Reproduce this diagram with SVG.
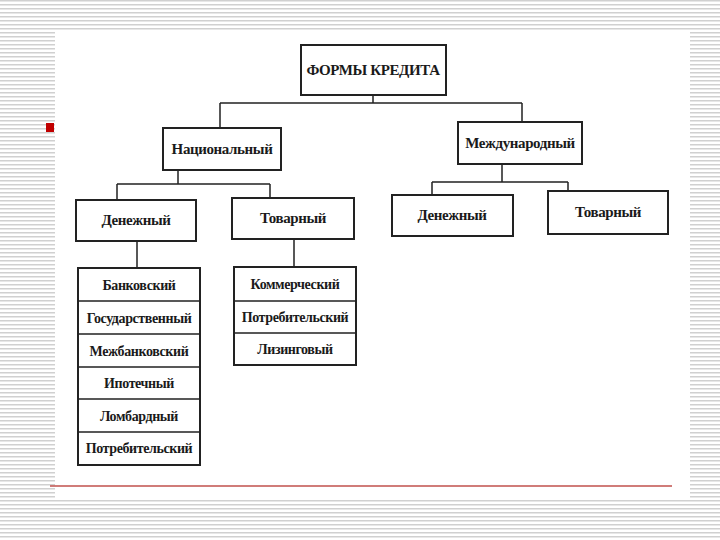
<svg xmlns="http://www.w3.org/2000/svg" width="720" height="540" viewBox="0 0 720 540">
<defs>
<pattern id="stripes" width="8" height="4" patternUnits="userSpaceOnUse">
<rect width="8" height="4" fill="#ffffff"/>
<rect width="8" height="1.5" fill="#d0d0d0"/>
</pattern>
<style>
.b{fill:#fff;stroke:#222;stroke-width:2}
.c{fill:none;stroke:#222;stroke-width:1.5}
text{font-family:"Liberation Serif","Times New Roman",serif;font-size:15px;fill:#1a1a1a;text-anchor:middle;font-weight:bold;letter-spacing:-0.4px}
.s{font-size:14px}
</style>
</defs>
<rect width="720" height="540" fill="url(#stripes)"/>
<rect x="55" y="30" width="635" height="470" fill="#fff"/>
<rect x="46" y="123" width="8" height="9" fill="#c00000"/>
<line x1="50" y1="486" x2="672" y2="486" stroke="#c0504d" stroke-width="1.5"/>
<g id="connectors">
<path class="c" d="M373 95V103M220 103H522M220 103V128M522 103V122"/>
<path class="c" d="M178 170V184M117 184H270M117 184V200M270 184V198"/>
<path class="c" d="M502 164V182M432 182H568M432 182V195M568 182V191"/>
<path class="c" d="M137 241V268M294 239V267"/>
</g>
<g id="n-top"><rect class="b" x="301" y="45" width="145" height="50"/><text x="373" y="75">ФОРМЫ КРЕДИТА</text></g>
<g id="n-nat"><rect class="b" x="163" y="128" width="118" height="42"/><text x="222" y="154">Национальный</text></g>
<g id="n-int"><rect class="b" x="458" y="122" width="124" height="42"/><text x="520" y="148">Международный</text></g>
<g id="n-nat-money"><rect class="b" x="76" y="200" width="120" height="41"/><text x="136" y="225">Денежный</text></g>
<g id="n-nat-goods"><rect class="b" x="232" y="198" width="122" height="41"/><text x="293" y="223">Товарный</text></g>
<g id="n-int-money"><rect class="b" x="392" y="195" width="121" height="41"/><text x="452" y="220">Денежный</text></g>
<g id="n-int-goods"><rect class="b" x="548" y="191" width="120" height="43"/><text x="608" y="217">Товарный</text></g>
<g id="n-list1">
<rect class="b" x="78" y="268" width="122" height="197"/>
<path class="c" d="M78 301H200M78 334H200M78 367H200M78 399H200M78 432H200"/>
<text class="s" x="139" y="290">Банковский</text>
<text class="s" x="139" y="323">Государственный</text>
<text class="s" x="139" y="356">Межбанковский</text>
<text class="s" x="139" y="388">Ипотечный</text>
<text class="s" x="139" y="421">Ломбардный</text>
<text class="s" x="139" y="453">Потребительский</text>
</g>
<g id="n-list2">
<rect class="b" x="234" y="267" width="122" height="98"/>
<path class="c" d="M234 301H356M234 333H356"/>
<text class="s" x="295" y="289">Коммерческий</text>
<text class="s" x="295" y="322">Потребительский</text>
<text class="s" x="295" y="354">Лизинговый</text>
</g>
</svg>
